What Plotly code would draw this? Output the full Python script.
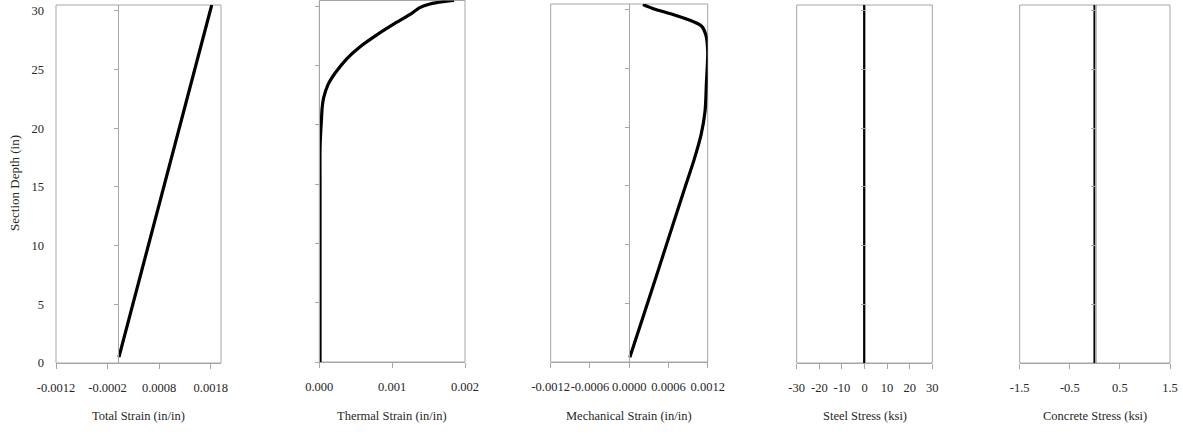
import plotly.graph_objects as go

# ---------------- data ----------------
depth_total = [0.5, 5, 10, 15, 20, 25, 30, 30.5]
total_strain = [0.00002, 0.00029, 0.00059, 0.00089, 0.00119, 0.00149, 0.00179, 0.00182]

depth_thermal = [0, 5, 10, 15, 18, 19.5, 20.5, 21.5, 22.3, 23.4, 24.4, 25.6, 26.6,
                 27.6, 28.5, 29.3, 29.9, 30.2, 30.4, 30.5]
thermal_strain = [0.00001, 0.00001, 0.00001, 0.00001, 0.00001, 0.00002, 0.00003, 0.00004,
                  0.00006, 0.00012, 0.00022, 0.00038, 0.00056, 0.00079, 0.00102, 0.00124,
                  0.00138, 0.00152, 0.00170, 0.00185]

depth_mech = [0.4, 5, 10, 15, 17.2, 19.4, 21.4, 23.7, 26.5, 27.9, 28.6, 29.0, 29.6, 30.1, 30.45]
mech_strain = [0.00001, 0.00028, 0.00057, 0.00086, 0.00099, 0.00110, 0.00116, 0.00118,
               0.00120, 0.00117, 0.00111, 0.00098, 0.00067, 0.00037, 0.00021]

depth_steel = [0, 30.5]
steel_stress = [0, 0]

depth_concrete = [0, 30.5]
concrete_stress = [0, 0]

depth_ticks = [0, 5, 10, 15, 20, 25, 30]
depth_ticktext = ["0", "5", "10", "15", "20", "25", "30"]

x1_ticks = [-0.0012, -0.0002, 0.0008, 0.0018]
x1_text = ["-0.0012", "-0.0002", "0.0008", "0.0018"]
x2_ticks = [0, 0.001, 0.002]
x2_text = ["0.000", "0.001", "0.002"]
x3_ticks = [-0.0012, -0.0006, 0, 0.0006, 0.0012]
x3_text = ["-0.0012", "-0.0006", "0.0000", "0.0006", "0.0012"]
x4_ticks = [-30, -20, -10, 0, 10, 20, 30]
x4_text = ["-30", "-20", "-10", "0", "10", "20", "30"]
x5_ticks = [-1.5, -0.5, 0.5, 1.5]
x5_text = ["-1.5", "-0.5", "0.5", "1.5"]

x_titles = ["Total Strain (in/in)", "Thermal Strain (in/in)", "Mechanical Strain (in/in)",
            "Steel Stress (ksi)", "Concrete Stress (ksi)"]
y_title = "Section Depth (in)"

# ---------------- layout ----------------
W, H = 1183, 440
FONT = "Liberation Serif"
GRAY = "#a6a6a6"
TXT = "#262626"

# panel pixel boxes: (left, right, top, bottom)
boxes = [
    (56, 221, 5, 363),
    (319.3, 465, 0.5, 362),
    (550.7, 707.7, 4, 362),
    (796.7, 932.3, 5, 363),
    (1019.7, 1170, 5, 363),
]
x_ranges = [[-0.0012, 0.002], [0, 0.002], [-0.0012, 0.0012], [-30, 30], [-1.5, 1.5]]
x_tickv = [x1_ticks, x2_ticks, x3_ticks, x4_ticks, x5_ticks]
x_tickt = [x1_text, x2_text, x3_text, x4_text, x5_text]
series = [
    (total_strain, depth_total, "linear"),
    (thermal_strain, depth_thermal, "spline"),
    (mech_strain, depth_mech, "spline"),
    (steel_stress, depth_steel, "linear"),
    (concrete_stress, depth_concrete, "linear"),
]
y_range = [0, 30.5]

fig = go.Figure()
layout = dict(
    width=W, height=H,
    margin=dict(l=0, r=0, t=0, b=0, pad=0, autoexpand=False),
    paper_bgcolor="white", plot_bgcolor="white",
    showlegend=False,
    font=dict(family=FONT, size=12, color=TXT),
)
shapes = []
annotations = []

for i, ((l, r, t, b), xr, tv, tt, (xs, ys, shp)) in enumerate(
        zip(boxes, x_ranges, x_tickv, x_tickt, series), start=1):
    xd = [l / W, r / W]
    yd = [1 - b / H, 1 - t / H]
    sfx = "" if i == 1 else str(i)
    # paper position of x=0 line
    zero_pos = xd[0] + (0 - xr[0]) / (xr[1] - xr[0]) * (xd[1] - xd[0])

    layout["xaxis" + sfx] = dict(
        domain=xd, range=xr, anchor="y" + sfx, automargin=False,
        tickmode="array", tickvals=tv, ticktext=tt, tickangle=0,
        ticks="outside", ticklen=5, tickcolor=GRAY, tickwidth=1,
        showline=True, linecolor=GRAY, linewidth=1,
        showgrid=False, zeroline=False,
        tickfont=dict(family=FONT, size=12.5, color=TXT),
        ticklabelstandoff=8,
        fixedrange=True,
    )
    yax = dict(
        domain=yd, range=y_range, automargin=False,
        tickmode="array", tickvals=depth_ticks, ticktext=depth_ticktext,
        showgrid=False, zeroline=False, fixedrange=True,
        tickfont=dict(family=FONT, size=12.5, color=TXT),
    )
    if i == 1:
        yax.update(anchor="x", ticks="", showline=False, showticklabels=True,
                   ticklabelstandoff=11)
        layout["yaxis"] = yax
        layout["yaxis6"] = dict(
            domain=yd, range=y_range, overlaying="y", anchor="free", position=zero_pos,
            automargin=False,
            tickmode="array", tickvals=depth_ticks,
            ticks="outside", ticklen=4, tickcolor=GRAY,
            showline=True, linecolor=GRAY, linewidth=1,
            showticklabels=False, showgrid=False, zeroline=False, fixedrange=True,
        )
        # empty trace so the overlay axis is drawn
        fig.add_trace(go.Scatter(x=[], y=[], xaxis="x", yaxis="y6", mode="lines",
                                 hoverinfo="skip"))
    else:
        yax.update(anchor="free", position=zero_pos, ticks="outside", ticklen=4,
                   tickcolor=GRAY, showline=True, linecolor=GRAY, linewidth=1,
                   showticklabels=False)
        layout["yaxis" + sfx] = yax

    shapes.append(dict(type="rect", xref="x" + sfx + " domain", yref="y" + sfx + " domain",
                       x0=0, x1=1, y0=0, y1=1, line=dict(color=GRAY, width=1),
                       layer="below"))

    fig.add_trace(go.Scatter(
        x=xs, y=ys, mode="lines", xaxis="x" + sfx, yaxis="y" + sfx,
        line=dict(color="black", width=3.2 if i <= 3 else 2.8, shape=shp,
                  smoothing=0.8),
        hoverinfo="skip",
    ))

    annotations.append(dict(
        text=x_titles[i - 1], xref="x" + sfx + " domain", x=0.5,
        yref="paper", y=1 - 416 / H, yanchor="middle", xanchor="center",
        showarrow=False, font=dict(family=FONT, size=12.5, color=TXT),
    ))

annotations.append(dict(
    text=y_title, xref="paper", x=14 / W, yref="paper", y=1 - 183 / H,
    textangle=-90, xanchor="center", yanchor="middle", showarrow=False,
    font=dict(family=FONT, size=13, color=TXT),
))

layout["shapes"] = shapes
layout["annotations"] = annotations
fig.update_layout(**layout)

fig.write_html("out.html")
